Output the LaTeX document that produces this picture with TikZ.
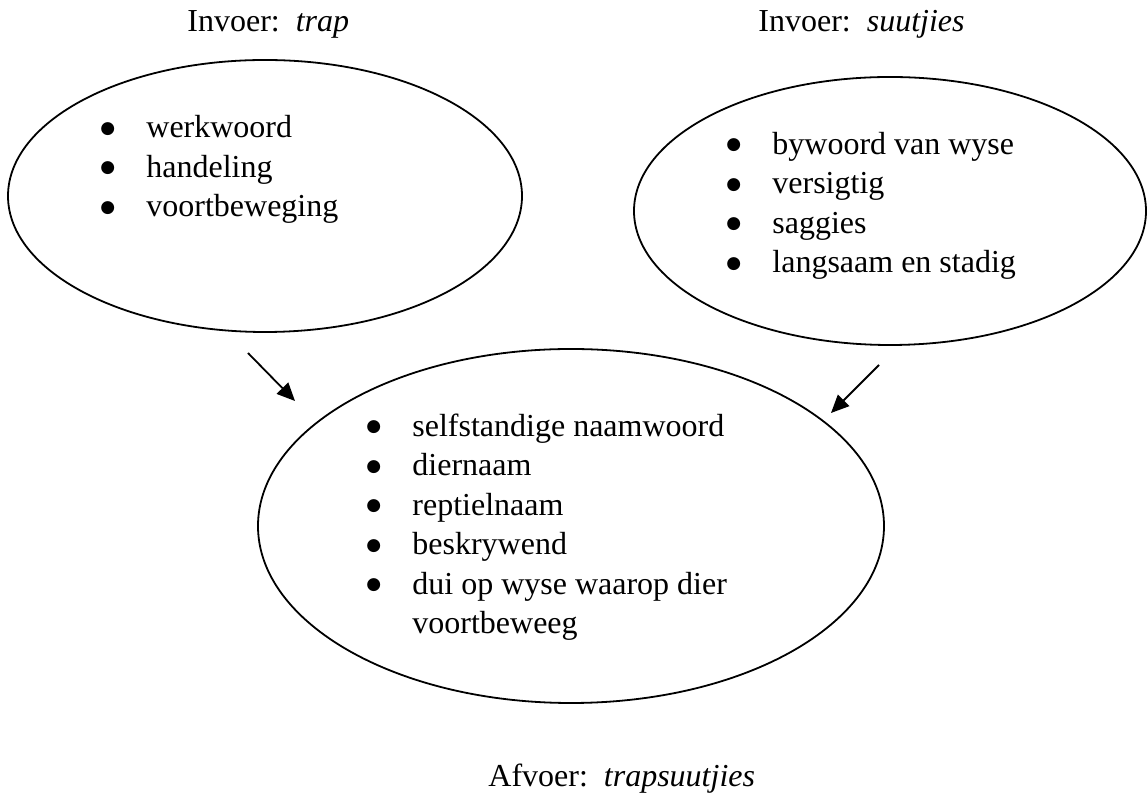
\documentclass[tikz,border=0pt]{standalone}
\usepackage{fontspec}
\setmainfont{Liberation Serif}
\newfontfamily\bulfont{DejaVu Sans}
\usetikzlibrary{arrows.meta,positioning,shapes.geometric}

% bullet item: round bullet, then the text at a fixed tab
\newcommand{\itm}[1]{\makebox[23pt][l]{\raisebox{2.4pt}{\bulfont\fontsize{8.5}{8.5}\selectfont ●}}#1}

\begin{document}
\begin{tikzpicture}[
  x=0.5pt,y=-0.5pt,
  font=\fontsize{16}{19.75}\selectfont,
  oval/.style={draw,ellipse,line width=0.9pt,inner sep=0pt},
  lys/.style={anchor=base west,align=left,inner sep=0pt},
  label/.style={anchor=base west,inner sep=0pt},
  arrow/.style={-{Triangle[length=9pt,width=8pt]},line width=0.9pt},
]
\useasboundingbox (0,0) rectangle (1147,795);

% input words
\node[label] (intrap) at (187,32) {Invoer:\ \ \textit{trap}};
\node[label] (insuut) at (758,32) {Invoer:\ \ \textit{suutjies}};

\node[oval,minimum width=257pt,minimum height=136pt] (trap) at (265,196) {};
\node[oval,minimum width=256pt,minimum height=134pt] (suut) at (890,211) {};
\node[oval,minimum width=313pt,minimum height=177pt] (trapsuut) at (571,526) {};

% lists (base = last line)
\node[lys] (traplys) at (100,217) {\itm{werkwoord}\\\itm{handeling}\\\itm{voortbeweging}};
\node[lys] (suutlys) at (726,273) {\itm{bywoord van wyse}\\\itm{versigtig}\\\itm{saggies}\\\itm{langsaam en stadig}};
\node[lys] (trapsuutlys) at (366,634) {\itm{selfstandige naamwoord}\\\itm{diernaam}\\\itm{reptielnaam}\\\itm{beskrywend}\\\itm{dui op wyse waarop dier}\\\hspace*{23pt}voortbeweeg};

% output word
\node[label] (uit) at (488,787) {Afvoer:\ \ \textit{trapsuutjies}};

\coordinate (trapvan) at (248,353);
\coordinate (trapna) at (295,401);
\coordinate (suutvan) at (879,365);
\coordinate (suutna) at (831,413);

\draw[arrow] (trapvan) -- (trapna);
\draw[arrow] (suutvan) -- (suutna);

\end{tikzpicture}
\end{document}
